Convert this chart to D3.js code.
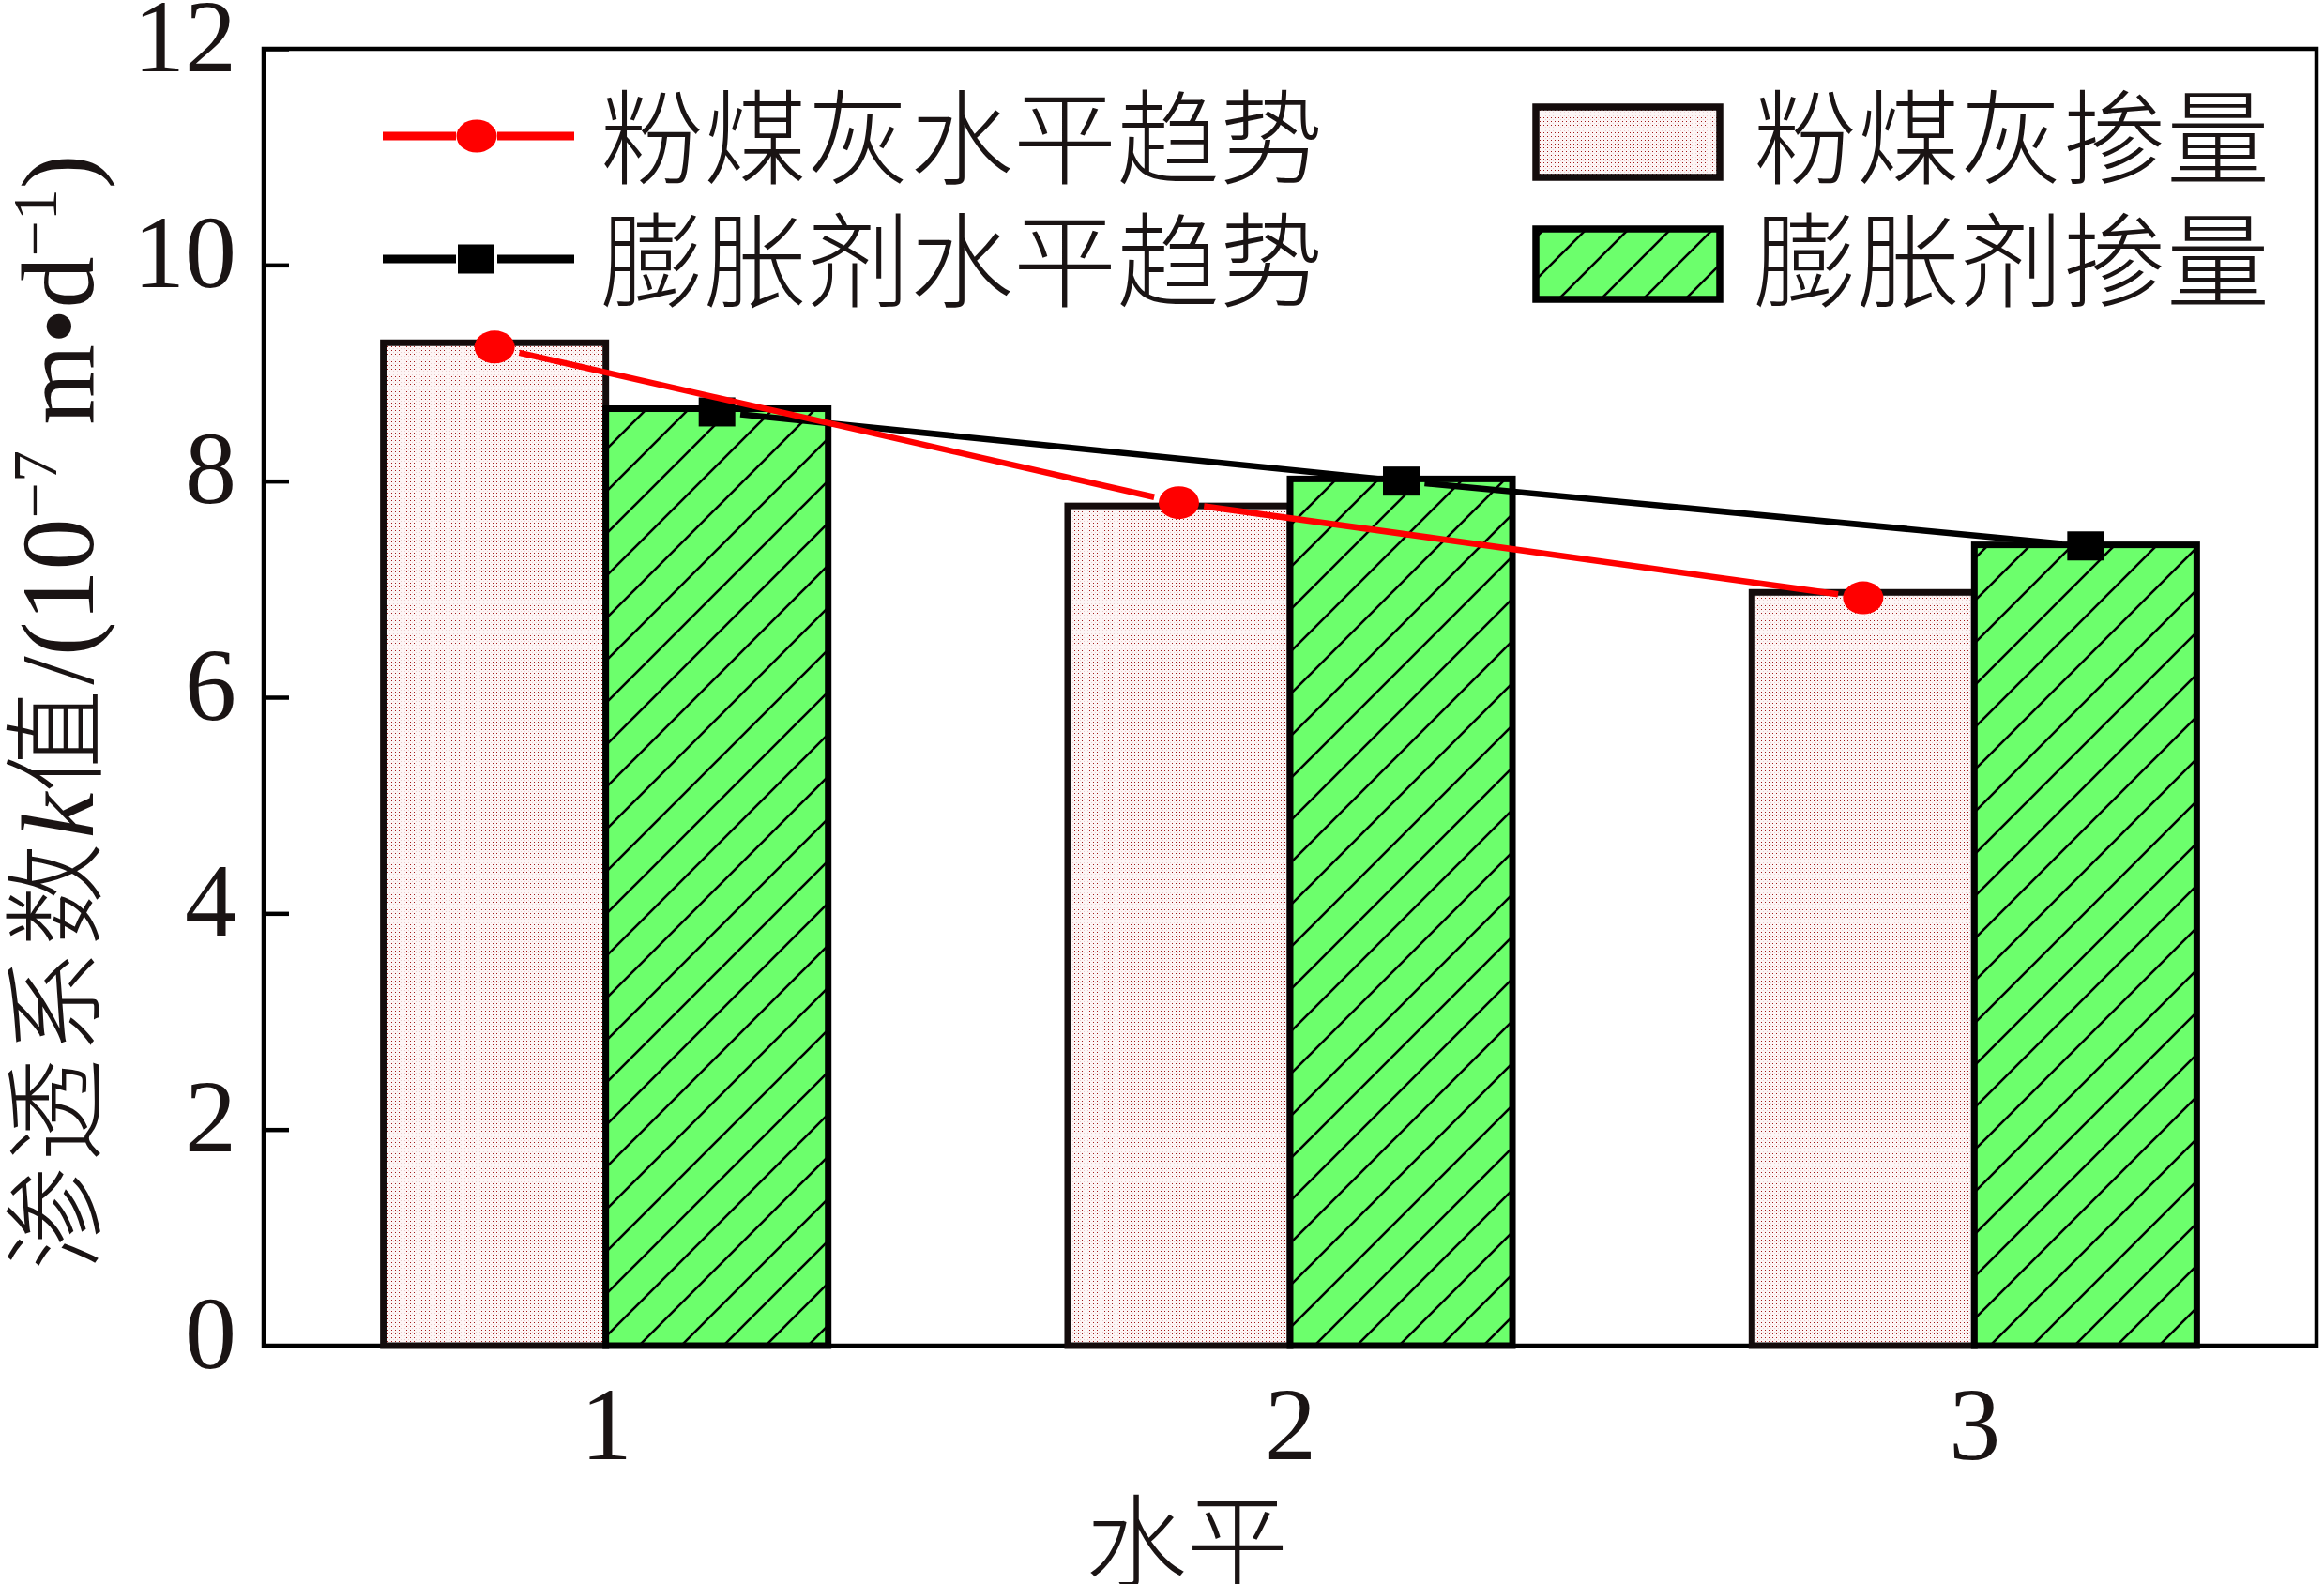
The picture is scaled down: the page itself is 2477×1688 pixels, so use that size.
<!DOCTYPE html>
<html>
<head>
<meta charset="utf-8">
<script src="https://cdn.jsdelivr.net/npm/d3@7"></script>
<style>
  body { margin: 0; background: #fff; }
  svg { display: block; }
</style>
</head>
<body>
<div id="chart"></div>
<script>
// data
var levels = [1, 2, 3];
var flyAshBar = [9.28, 7.77, 6.97];
var agentBar = [8.67, 8.02, 7.41];
var flyAshTrend = [9.24, 7.80, 6.92];
var agentTrend = [8.64, 8.00, 7.40];
var yTicks = [0, 2, 4, 6, 8, 10, 12];
var lineNames = ["粉煤灰水平趋势", "膨胀剂水平趋势"];
var barNames = ["粉煤灰掺量", "膨胀剂掺量"];

var W = 2477, H = 1688;
var plotL = 281, plotR = 2469, plotT = 52, plotB = 1434;
var serif = "'Liberation Serif', 'Times New Roman', serif";
var cjk = "'Noto Sans CJK SC', 'Noto Sans', sans-serif";

var svg = d3.select("#chart").append("svg")
  .attr("width", W).attr("height", H);

var defs = svg.append("defs");
// pink dotted fill
var pDot = defs.append("pattern").attr("id", "dots")
  .attr("patternUnits", "userSpaceOnUse").attr("width", 4).attr("height", 4);
pDot.append("rect").attr("width", 4).attr("height", 4).attr("fill", "#fdf5f5");
pDot.append("rect").attr("x", 1).attr("y", 1).attr("width", 1).attr("height", 1).attr("fill", "#a01818");
pDot.append("rect").attr("x", 3).attr("y", 3).attr("width", 1).attr("height", 1).attr("fill", "#ecd0d0");
// green hatch
var pHatch = defs.append("pattern").attr("id", "hatch")
  .attr("patternUnits", "userSpaceOnUse").attr("width", 45).attr("height", 45);
pHatch.append("rect").attr("width", 45).attr("height", 45).attr("fill", "#6cff6c");
pHatch.append("path").attr("d", "M-5,50 L50,-5 M-10,10 L10,-10 M35,55 L55,35")
  .attr("stroke", "#000").attr("stroke-width", 2.6);

var x = d3.scaleLinear().domain([0.5, 3.5]).range([plotL, plotR]);
var y = d3.scaleLinear().domain([0, 12]).range([plotB, plotT]);
var bw = 0.325;

// frame
svg.append("rect").attr("x", plotL).attr("y", plotT)
  .attr("width", plotR - plotL).attr("height", plotB - plotT)
  .attr("fill", "none").attr("stroke", "#000").attr("stroke-width", 4.5);

// y axis
var yAxis = svg.append("g").attr("transform", "translate(" + plotL + ",0)")
  .call(d3.axisLeft(y).tickValues(yTicks).tickFormat(d3.format("d"))
    .tickSizeInner(-27).tickSizeOuter(0).tickPadding(29));
yAxis.select(".domain").remove();
yAxis.selectAll("line").attr("stroke", "#000").attr("stroke-width", 4.5);
yAxis.selectAll("text").attr("dy", null).attr("y", 23)
  .style("font-family", serif).style("font-size", "110px").attr("fill", "#1a1414");

// x axis
var xAxis = svg.append("g").attr("transform", "translate(0," + plotB + ")")
  .call(d3.axisBottom(x).tickValues(levels).tickFormat(d3.format("d")).tickSize(0).tickPadding(0));
xAxis.select(".domain").remove();
xAxis.selectAll("text").attr("dy", null).attr("y", 121)
  .style("font-family", serif).style("font-size", "110px").attr("fill", "#1a1414");

// bars
svg.append("g").selectAll("rect").data(levels).enter().append("rect")
  .attr("x", function(d) { return x(d - bw); })
  .attr("y", function(d, i) { return y(flyAshBar[i]); })
  .attr("width", function(d) { return x(d) - x(d - bw); })
  .attr("height", function(d, i) { return plotB - y(flyAshBar[i]); })
  .attr("fill", "url(#dots)").attr("stroke", "#140c0c").attr("stroke-width", 7);

svg.append("g").selectAll("rect").data(levels).enter().append("rect")
  .attr("x", function(d) { return x(d); })
  .attr("y", function(d, i) { return y(agentBar[i]); })
  .attr("width", function(d) { return x(d + bw) - x(d); })
  .attr("height", function(d, i) { return plotB - y(agentBar[i]); })
  .attr("fill", "url(#hatch)").attr("stroke", "#000").attr("stroke-width", 7);

// trend lines, with a small gap round each marker
function gapLine(g, pts, color, gap) {
  for (var i = 0; i < pts.length - 1; i++) {
    var a = pts[i], b = pts[i + 1];
    var dx = b[0] - a[0], dy = b[1] - a[1], L = Math.sqrt(dx * dx + dy * dy);
    g.append("line")
      .attr("x1", a[0] + dx / L * gap).attr("y1", a[1] + dy / L * gap)
      .attr("x2", b[0] - dx / L * gap).attr("y2", b[1] - dy / L * gap)
      .attr("stroke", color).attr("stroke-width", 6.5);
  }
}

var agentPts = levels.map(function(d, i) { return [x(d + bw / 2), y(agentTrend[i])]; });
var ashPts = levels.map(function(d, i) { return [x(d - bw / 2), y(flyAshTrend[i])]; });

var gBlack = svg.append("g");
gapLine(gBlack, agentPts, "#000", 25);
gBlack.selectAll("rect").data(agentPts).enter().append("rect")
  .attr("x", function(p) { return p[0] - 19.5; }).attr("y", function(p) { return p[1] - 15.5; })
  .attr("width", 39).attr("height", 31).attr("fill", "#000");

var gRed = svg.append("g");
gapLine(gRed, ashPts, "#ff0000", 27);
gRed.selectAll("ellipse").data(ashPts).enter().append("ellipse")
  .attr("cx", function(p) { return p[0]; }).attr("cy", function(p) { return p[1]; })
  .attr("rx", 21.5).attr("ry", 17.5).attr("fill", "#ff0000");

// legend: trend lines
var legL = svg.append("g");
var rowY = [145, 276];
legL.append("line").attr("x1", 408).attr("x2", 486).attr("y1", rowY[0]).attr("y2", rowY[0]).attr("stroke", "#f00").attr("stroke-width", 9);
legL.append("line").attr("x1", 530).attr("x2", 612).attr("y1", rowY[0]).attr("y2", rowY[0]).attr("stroke", "#f00").attr("stroke-width", 9);
legL.append("ellipse").attr("cx", 508).attr("cy", rowY[0]).attr("rx", 21.5).attr("ry", 17.5).attr("fill", "#f00");
legL.append("line").attr("x1", 408).attr("x2", 486).attr("y1", rowY[1]).attr("y2", rowY[1]).attr("stroke", "#000").attr("stroke-width", 9);
legL.append("line").attr("x1", 530).attr("x2", 612).attr("y1", rowY[1]).attr("y2", rowY[1]).attr("stroke", "#000").attr("stroke-width", 9);
legL.append("rect").attr("x", 488).attr("y", rowY[1] - 15.5).attr("width", 39).attr("height", 31).attr("fill", "#000");
legL.selectAll("text").data(lineNames).enter().append("text")
  .attr("x", 640).attr("y", function(d, i) { return [140, 271][i]; })
  .attr("dominant-baseline", "central")
  .style("font-family", cjk).style("font-size", "110px").style("font-weight", 300)
  .attr("fill", "#1a1414").text(function(d) { return d; });

// legend: bars
var legR = svg.append("g");
legR.selectAll("rect").data(barNames).enter().append("rect")
  .attr("x", 1637).attr("y", function(d, i) { return [114, 244][i]; })
  .attr("width", 196).attr("height", 75)
  .attr("fill", function(d, i) { return i === 0 ? "url(#dots)" : "url(#hatch)"; })
  .attr("stroke", function(d, i) { return i === 0 ? "#140c0c" : "#000"; })
  .attr("stroke-width", 7.5);
legR.selectAll("text").data(barNames).enter().append("text")
  .attr("x", 1869).attr("y", function(d, i) { return [140, 271][i]; })
  .attr("dominant-baseline", "central")
  .style("font-family", cjk).style("font-size", "110px").style("font-weight", 300)
  .attr("fill", "#1a1414").text(function(d) { return d; });

// axis titles
svg.append("text").attr("x", 1265).attr("y", 1636)
  .attr("text-anchor", "middle").attr("dominant-baseline", "central")
  .style("font-family", cjk).style("font-size", "108px").style("font-weight", 300)
  .attr("fill", "#1a1414").text("水平");

var yt = svg.append("text")
  .attr("transform", "translate(99,759) rotate(-90)")
  .attr("text-anchor", "middle")
  .style("font-size", "110px").attr("fill", "#1a1414");
yt.append("tspan").style("font-family", cjk).style("font-weight", 300).style("letter-spacing", "5px").text("渗透系数");
yt.append("tspan").style("font-family", serif).style("font-style", "italic").text("k");
yt.append("tspan").style("font-family", cjk).style("font-weight", 300).style("letter-spacing", "5px").text("值");
yt.append("tspan").style("font-family", serif).text("/(10");
yt.append("tspan").style("font-family", serif).style("font-size", "68px").attr("dy", -39).text("−7");
yt.append("tspan").style("font-family", serif).attr("dy", 39).text(" m•d");
yt.append("tspan").style("font-family", serif).style("font-size", "68px").attr("dy", -39).text("−1");
yt.append("tspan").style("font-family", serif).attr("dy", 39).text(")");
</script>
</body>
</html>
